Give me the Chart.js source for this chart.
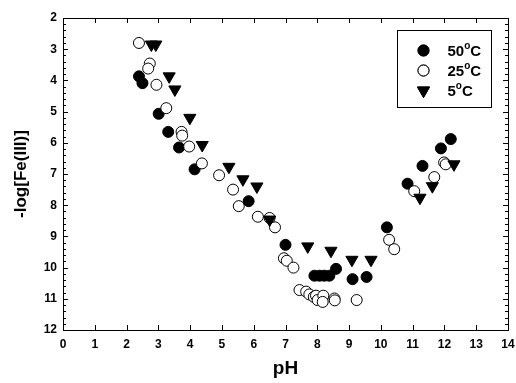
<!DOCTYPE html>
<html>
<head>
<meta charset="utf-8">
<script src="https://cdn.jsdelivr.net/npm/chart.js@4.4.0/dist/chart.umd.min.js"></script>
<style>
  html, body { margin: 0; padding: 0; background: #fff; }
  canvas { display: block; }
</style>
</head>
<body>
<canvas id="chart" width="516" height="383"></canvas>
<script>
// data
const labels = ["50°C", "25°C", "5°C"];

const ph50 = [2.39, 2.50, 3.01, 3.31, 3.65, 4.14, 5.84, 7.00, 7.91, 8.07, 8.22, 8.38, 8.59, 9.11, 9.55, 10.19, 10.84, 11.31, 11.89, 12.20];
const fe50 = [3.87, 4.09, 5.07, 5.65, 6.15, 6.85, 7.87, 9.27, 10.26, 10.26, 10.26, 10.26, 10.04, 10.37, 10.30, 8.71, 7.31, 6.74, 6.18, 5.88];

const ph25 = [2.39, 2.73, 2.68, 2.94, 3.25, 3.73, 3.75, 3.97, 4.37, 4.91, 5.35, 5.53, 6.13, 6.50, 6.67, 6.95, 7.04, 7.25, 7.44, 7.65, 7.75, 7.89, 7.96, 8.01, 8.19, 8.17, 8.54, 8.55, 9.24, 10.26, 10.42, 11.05, 11.68, 11.99, 12.04];
const fe25 = [2.80, 3.46, 3.62, 4.14, 4.89, 5.65, 5.77, 6.12, 6.66, 7.04, 7.50, 8.03, 8.37, 8.41, 8.71, 9.70, 9.78, 10.00, 10.72, 10.77, 10.86, 10.94, 10.90, 11.04, 10.90, 11.10, 10.99, 11.05, 11.04, 9.11, 9.41, 7.55, 7.10, 6.63, 6.69];

const ph5 = [2.78, 2.92, 3.34, 3.52, 3.99, 4.38, 5.22, 5.66, 6.10, 6.50, 7.70, 8.43, 9.09, 9.69, 11.23, 11.62, 12.30];
const fe5 = [2.85, 2.85, 3.87, 4.29, 5.20, 6.07, 6.77, 7.17, 7.40, 8.46, 9.32, 9.46, 9.75, 9.75, 7.76, 7.39, 6.69];

function pts(xs, ys) {
  return xs.map((x, i) => ({ x: x, y: ys[i] }));
}

const FONT = "'Liberation Sans', Arial, sans-serif";

// frame + inward ticks, and the legend box in the top right
const framePlugin = {
  id: "frame",
  afterDraw(chart) {
    const ctx = chart.ctx;
    const a = chart.chartArea;
    const xs = chart.scales.x;
    const ys = chart.scales.y;
    ctx.save();
    ctx.strokeStyle = "#000";
    ctx.lineWidth = 1;
    ctx.strokeRect(Math.round(a.left) + 0.5, Math.round(a.top) + 0.5,
      Math.round(a.right - a.left), Math.round(a.bottom - a.top));
    ctx.beginPath();
    for (let v = 0; v <= 14; v++) {
      const px = Math.round(xs.getPixelForValue(v)) + 0.5;
      ctx.moveTo(px, a.bottom); ctx.lineTo(px, a.bottom - 5);
      ctx.moveTo(px, a.top); ctx.lineTo(px, a.top + 5);
    }
    for (let k = 0; k <= 50; k++) {
      const v = 2 + k * 0.2;
      const len = k % 5 === 0 ? 5 : 3;
      const py = Math.round(ys.getPixelForValue(v)) + 0.5;
      ctx.moveTo(a.left, py); ctx.lineTo(a.left + len, py);
      ctx.moveTo(a.right, py); ctx.lineTo(a.right - len, py);
    }
    ctx.stroke();

    // legend
    const bx = 397.5, by = 30.5, bw = 94, bh = 77;
    ctx.strokeRect(bx, by, bw, bh);
    const ds = chart.data.datasets;
    ds.forEach((d, i) => {
      const y = by + 20 + i * 20;
      Chart.helpers.drawPoint(ctx, {
        pointStyle: d.pointStyle,
        radius: d.pointRadius,
        rotation: d.rotation || 0,
        borderWidth: 1
      }, bx + 26, y);
      ctx.fillStyle = d.backgroundColor;
      ctx.strokeStyle = "#000";
      ctx.fill();
      ctx.stroke();
      // label with superscript degree "o"
      const num = d.label.replace("°C", "");
      ctx.fillStyle = "#000";
      ctx.textBaseline = "middle";
      ctx.textAlign = "left";
      ctx.font = "bold 15px " + FONT;
      let tx = bx + 50;
      ctx.fillText(num, tx, y + 1);
      tx += ctx.measureText(num).width;
      ctx.font = "bold 10px " + FONT;
      ctx.fillText("o", tx, y - 4);
      tx += ctx.measureText("o").width;
      ctx.font = "bold 15px " + FONT;
      ctx.fillText("C", tx, y + 1);
    });
    ctx.restore();
  }
};

const ctx = document.getElementById("chart").getContext("2d");

new Chart(ctx, {
  type: "scatter",
  data: {
    datasets: [
      {
        label: labels[0],
        data: pts(ph50, fe50),
        pointStyle: "circle",
        pointRadius: 5.5,
        backgroundColor: "#000",
        borderColor: "#000",
        borderWidth: 1,
        order: 2
      },
      {
        label: labels[1],
        data: pts(ph25, fe25),
        pointStyle: "circle",
        pointRadius: 5.5,
        backgroundColor: "#fff",
        borderColor: "#000",
        borderWidth: 1,
        order: 1
      },
      {
        label: labels[2],
        data: pts(ph5, fe5),
        pointStyle: "triangle",
        rotation: 180,
        pointRadius: 7,
        backgroundColor: "#000",
        borderColor: "#000",
        borderWidth: 1,
        order: 0
      }
    ]
  },
  options: {
    responsive: false,
    devicePixelRatio: 1,
    animation: false,
    layout: { padding: { top: 18, right: 7, left: 0, bottom: 0 } },
    plugins: {
      legend: { display: false },
      tooltip: { enabled: false }
    },
    scales: {
      x: {
        type: "linear",
        min: 0,
        max: 14,
        ticks: {
          stepSize: 1,
          color: "#000",
          padding: 7,
          maxRotation: 0,
          font: { family: FONT, size: 12, weight: "bold" }
        },
        grid: { display: false, drawTicks: false },
        border: { display: false },
        title: {
          display: true,
          text: "pH",
          color: "#000",
          padding: { top: 12, bottom: 3 },
          font: { family: FONT, size: 19, weight: "bold" }
        },
        afterFit(scale) {
          scale.height = 53;
          scale.paddingLeft = 0;
          scale.paddingRight = 0;
        }
      },
      y: {
        type: "linear",
        reverse: true,
        min: 2,
        max: 12,
        ticks: {
          stepSize: 1,
          color: "#000",
          padding: 6,
          font: { family: FONT, size: 12, weight: "bold" }
        },
        grid: { display: false, drawTicks: false },
        border: { display: false },
        title: {
          display: true,
          text: "-log[Fe(III)]",
          color: "#000",
          padding: { top: 11, bottom: 8 },
          font: { family: FONT, size: 17, weight: "bold" }
        },
        afterFit(scale) {
          scale.width = 63;
          scale.paddingTop = 0;
          scale.paddingBottom = 0;
        }
      }
    }
  },
  plugins: [framePlugin]
});
</script>
</body>
</html>
